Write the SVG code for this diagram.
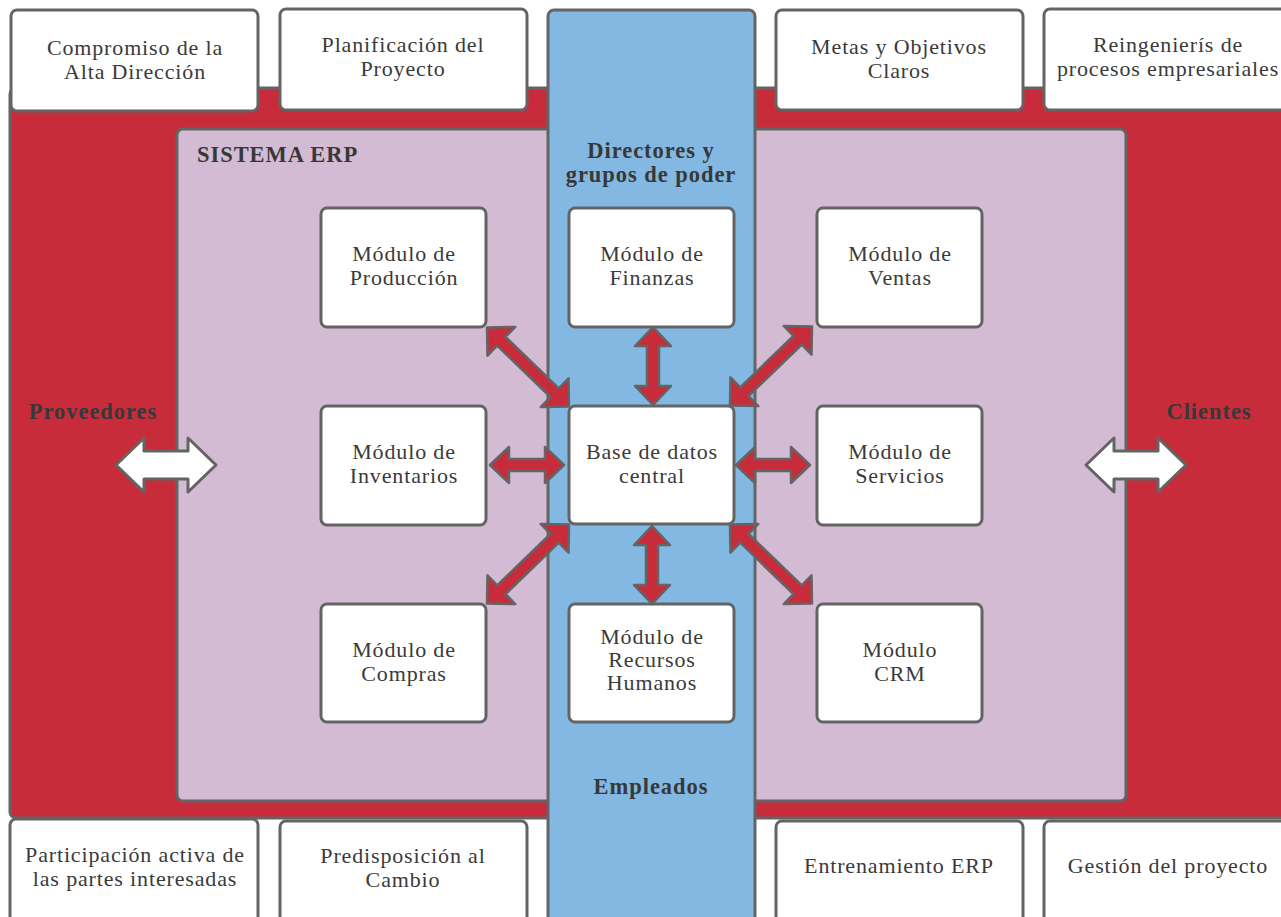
<svg xmlns="http://www.w3.org/2000/svg" width="1281" height="917" viewBox="0 0 1281 917">
  <style>
    .frame { stroke: #646464; stroke-width: 3; }
    .box { fill: #ffffff; stroke: #646464; stroke-width: 3; }
    .t { font-family: "Liberation Serif", "DejaVu Serif", serif; font-size: 22px; letter-spacing: 0.85px; fill: #3a3a3a; text-anchor: middle; }
    .b { font-family: "Liberation Serif", "DejaVu Serif", serif; font-size: 22.5px; letter-spacing: 0.95px; font-weight: bold; fill: #383838; }
    .arrow { fill: #c82b3a; stroke: #646464; stroke-width: 2.5; stroke-linejoin: round; }
    .big { fill: #ffffff; stroke: #646464; stroke-width: 3; stroke-linejoin: round; }
  </style>
  <defs>
    <!-- double-headed arrows, centred on the origin, pointing along x -->
    <path id="dbl-short" d="M-37,0 L-18,-18 L-18,-6 L18,-6 L18,-18 L37,0 L18,18 L18,6 L-18,6 L-18,18 Z"/>
    <path id="dbl-vert" d="M-39,0 L-20,-18 L-20,-6 L20,-6 L20,-18 L39,0 L20,18 L20,6 L-20,6 L-20,18 Z"/>
    <path id="dbl-diag" d="M-57,0 L-37,-20 L-37,-6 L37,-6 L37,-20 L57,0 L37,20 L37,6 L-37,6 L-37,20 Z"/>
    <path id="dbl-big" d="M-50,0 L-22,-27 L-22,-14 L22,-14 L22,-27 L50,0 L22,27 L22,14 L-22,14 L-22,27 Z"/>
  </defs>

  <rect width="1281" height="917" fill="#ffffff"/>

  <!-- background layers -->
  <g id="organizacion">
    <rect class="frame" x="10" y="88" width="1290" height="730" rx="6" fill="#c82b3a"/>
    <text class="b" x="93" y="419" text-anchor="middle">Proveedores</text>
    <text class="b" x="1209" y="419" text-anchor="middle">Clientes</text>
  </g>
  <g id="sistema-erp">
    <rect class="frame" x="177" y="129" width="949" height="672" rx="6" fill="#d3bbd3"/>
    <text class="b" x="197" y="162">SISTEMA ERP</text>
  </g>
  <g id="personas">
    <rect class="frame" x="548" y="10" width="207" height="920" rx="6" fill="#82b8e2"/>
    <text class="b" x="651" y="158" text-anchor="middle">Directores y</text>
    <text class="b" x="651" y="182" text-anchor="middle">grupos de poder</text>
    <text class="b" x="651" y="794" text-anchor="middle">Empleados</text>
  </g>

  <!-- success factors, top row -->
  <g id="compromiso">
    <rect class="box" x="11" y="10" width="247" height="101" rx="6"/>
    <text class="t" x="135" y="55">Compromiso de la</text>
    <text class="t" x="135" y="79">Alta Dirección</text>
  </g>
  <g id="planificacion">
    <rect class="box" x="280" y="9" width="247" height="101" rx="6"/>
    <text class="t" x="403" y="52">Planificación del</text>
    <text class="t" x="403" y="76">Proyecto</text>
  </g>
  <g id="metas">
    <rect class="box" x="776" y="10" width="247" height="100" rx="6"/>
    <text class="t" x="899" y="54">Metas y Objetivos</text>
    <text class="t" x="899" y="78">Claros</text>
  </g>
  <g id="reingenieria">
    <rect class="box" x="1044" y="9" width="260" height="101" rx="6"/>
    <text class="t" x="1168" y="52">Reingenierís de</text>
    <text class="t" x="1168" y="76">procesos empresariales</text>
  </g>

  <!-- success factors, bottom row -->
  <g id="participacion">
    <rect class="box" x="10" y="819" width="248" height="110" rx="6"/>
    <text class="t" x="135" y="862">Participación activa de</text>
    <text class="t" x="135" y="886">las partes interesadas</text>
  </g>
  <g id="predisposicion">
    <rect class="box" x="280" y="821" width="247" height="110" rx="6"/>
    <text class="t" x="403" y="863">Predisposición al</text>
    <text class="t" x="403" y="887">Cambio</text>
  </g>
  <g id="entrenamiento">
    <rect class="box" x="776" y="821" width="247" height="110" rx="6"/>
    <text class="t" x="899" y="873">Entrenamiento ERP</text>
  </g>
  <g id="gestion">
    <rect class="box" x="1044" y="821" width="260" height="110" rx="6"/>
    <text class="t" x="1168" y="873">Gestión del proyecto</text>
  </g>

  <!-- ERP modules -->
  <g id="produccion">
    <rect class="box" x="321" y="208" width="165" height="119" rx="6"/>
    <text class="t" x="404" y="261">Módulo de</text>
    <text class="t" x="404" y="285">Producción</text>
  </g>
  <g id="finanzas">
    <rect class="box" x="569" y="208" width="165" height="119" rx="6"/>
    <text class="t" x="652" y="261">Módulo de</text>
    <text class="t" x="652" y="285">Finanzas</text>
  </g>
  <g id="ventas">
    <rect class="box" x="817" y="208" width="165" height="119" rx="6"/>
    <text class="t" x="900" y="261">Módulo de</text>
    <text class="t" x="900" y="285">Ventas</text>
  </g>
  <g id="inventarios">
    <rect class="box" x="321" y="406" width="165" height="119" rx="6"/>
    <text class="t" x="404" y="459">Módulo de</text>
    <text class="t" x="404" y="483">Inventarios</text>
  </g>
  <g id="base-datos">
    <rect class="box" x="569" y="406" width="165" height="118" rx="6"/>
    <text class="t" x="652" y="459">Base de datos</text>
    <text class="t" x="652" y="483">central</text>
  </g>
  <g id="servicios">
    <rect class="box" x="817" y="406" width="165" height="119" rx="6"/>
    <text class="t" x="900" y="459">Módulo de</text>
    <text class="t" x="900" y="483">Servicios</text>
  </g>
  <g id="compras">
    <rect class="box" x="321" y="604" width="165" height="118" rx="6"/>
    <text class="t" x="404" y="657">Módulo de</text>
    <text class="t" x="404" y="681">Compras</text>
  </g>
  <g id="recursos-humanos">
    <rect class="box" x="569" y="604" width="165" height="118" rx="6"/>
    <text class="t" x="652" y="644">Módulo de</text>
    <text class="t" x="652" y="667">Recursos</text>
    <text class="t" x="652" y="690">Humanos</text>
  </g>
  <g id="crm">
    <rect class="box" x="817" y="604" width="165" height="118" rx="6"/>
    <text class="t" x="900" y="657">Módulo</text>
    <text class="t" x="900" y="681">CRM</text>
  </g>

  <!-- connectors -->
  <g id="connectors">
    <use href="#dbl-short" class="arrow" transform="translate(527,465)"/>
    <use href="#dbl-short" class="arrow" transform="translate(773,465)"/>
    <use href="#dbl-vert" class="arrow" transform="translate(653,366) rotate(90)"/>
    <use href="#dbl-vert" class="arrow" transform="translate(652,565) rotate(90)"/>
    <use href="#dbl-diag" class="arrow" transform="translate(528,367) rotate(44)"/>
    <use href="#dbl-diag" class="arrow" transform="translate(771,366) rotate(-44)"/>
    <use href="#dbl-diag" class="arrow" transform="translate(528,564) rotate(-44)"/>
    <use href="#dbl-diag" class="arrow" transform="translate(771,564) rotate(44)"/>
    <use href="#dbl-big" class="big" transform="translate(166,465)"/>
    <use href="#dbl-big" class="big" transform="translate(1136,465)"/>
  </g>
</svg>
